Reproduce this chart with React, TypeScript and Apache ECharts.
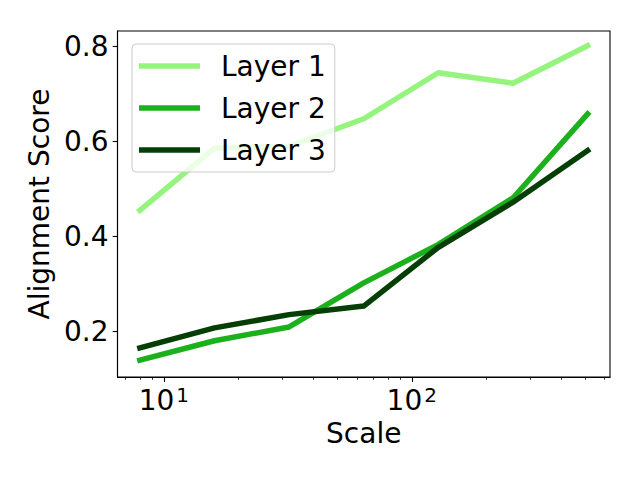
import React, { useEffect, useRef } from "react";
import * as echarts from "echarts";

const scales = [8, 16, 32, 64, 128, 256, 512];
const layer1 = [0.455, 0.586, 0.59, 0.648, 0.745, 0.723, 0.802];
const layer2 = [0.139, 0.18, 0.209, 0.302, 0.383, 0.481, 0.658];
const layer3 = [0.165, 0.207, 0.235, 0.253, 0.377, 0.472, 0.581];
const seriesNames = ["Layer 1", "Layer 2", "Layer 3"];
const seriesColors = ["#94f47e", "#1cb01c", "#053f05"];
const xMajorTicks = [10, 100];
const xMinorTicks = [7, 8, 9, 20, 30, 40, 50, 60, 70, 80, 90, 200, 300, 400, 500, 600];
const yTicks = [0.2, 0.4, 0.6, 0.8];

const FONT = "DejaVu Sans";

export default function App() {
  const ref = useRef<HTMLDivElement>(null);
  useEffect(() => {
    if (!ref.current) return;
    const chart = echarts.init(ref.current, undefined, { renderer: "svg" });
    const allData = [layer1, layer2, layer3];
    const xMin = 6.5;
    const xMax = 630.4;
    chart.setOption({
      animation: false,
      textStyle: { fontFamily: FONT },
      grid: {
        left: 117.5,
        right: 30,
        top: 31,
        bottom: 103,
        show: true,
        borderColor: "#000",
        borderWidth: 1.1,
        backgroundColor: "transparent",
      },
      legend: {
        left: 132,
        top: 44,
        orient: "vertical",
        icon: "rect",
        itemWidth: 61,
        itemHeight: 5.5,
        itemGap: 14,
        padding: [8, 9, 8, 7],
        backgroundColor: "rgba(255,255,255,0.8)",
        borderColor: "#cccccc",
        borderWidth: 1,
        borderRadius: 4,
        textStyle: {
          fontFamily: FONT,
          fontSize: 28,
          color: "#000",
          padding: [0, 0, 0, 16],
        },
        data: seriesNames,
      },
      xAxis: [
        {
          type: "log",
          logBase: 10,
          min: xMin,
          max: xMax,
          position: "bottom",
          name: "Scale",
          nameLocation: "middle",
          nameGap: 42,
          nameTextStyle: { fontFamily: FONT, fontSize: 28, color: "#000" },
          axisLine: { show: true, onZero: false, lineStyle: { color: "#000", width: 1.1 } },
          axisTick: {
            show: true,
            inside: false,
            length: 4.9,
            lineStyle: { color: "#000", width: 1.1 },
            customValues: xMajorTicks,
          },
          axisLabel: {
            show: true,
            margin: 8,
            customValues: xMajorTicks,
            formatter: (v: number) => `{a|10}{s|${Math.round(Math.log10(v))}}`,
            rich: {
              a: { fontFamily: FONT, fontSize: 28, color: "#000" },
              s: {
                fontFamily: FONT,
                fontSize: 20,
                color: "#000",
                verticalAlign: "top",
                padding: [0, 0, 10, 2],
              },
            },
          },
          splitLine: { show: false },
          minorTick: { show: false },
        },
        {
          type: "log",
          logBase: 10,
          min: xMin,
          max: xMax,
          position: "bottom",
          axisLine: { show: false, onZero: false },
          axisTick: {
            show: true,
            inside: false,
            length: 2.8,
            lineStyle: { color: "#000", width: 0.8 },
            customValues: xMinorTicks,
          },
          axisLabel: { show: false },
          splitLine: { show: false },
        },
      ],
      yAxis: {
        type: "value",
        min: 0.1035,
        max: 0.833,
        name: "Alignment Score",
        nameLocation: "middle",
        nameGap: 59,
        nameTextStyle: { fontFamily: FONT, fontSize: 28, color: "#000" },
        axisLine: { show: true, onZero: false, lineStyle: { color: "#000", width: 1.1 } },
        axisTick: {
          show: true,
          inside: false,
          length: 4.9,
          lineStyle: { color: "#000", width: 1.1 },
          customValues: yTicks,
        },
        axisLabel: {
          margin: 9,
          fontFamily: FONT,
          fontSize: 28,
          color: "#000",
          customValues: yTicks,
          formatter: (v: number) => v.toFixed(1),
        },
        splitLine: { show: false },
      },
      series: allData.map((vals, i) => ({
        name: seriesNames[i],
        type: "line",
        xAxisIndex: 0,
        data: scales.map((s, j) => [s, vals[j]]),
        showSymbol: false,
        symbol: "none",
        z: 2 + i,
        color: seriesColors[i],
        itemStyle: { color: seriesColors[i] },
        lineStyle: { color: seriesColors[i], width: 5.5, cap: "square", join: "round" },
      })),
    });
    return () => chart.dispose();
  }, []);
  return (
    <div
      ref={ref}
      style={{ position: "fixed", left: 0, top: 0, width: 640, height: 480, background: "#fff" }}
    />
  );
}
